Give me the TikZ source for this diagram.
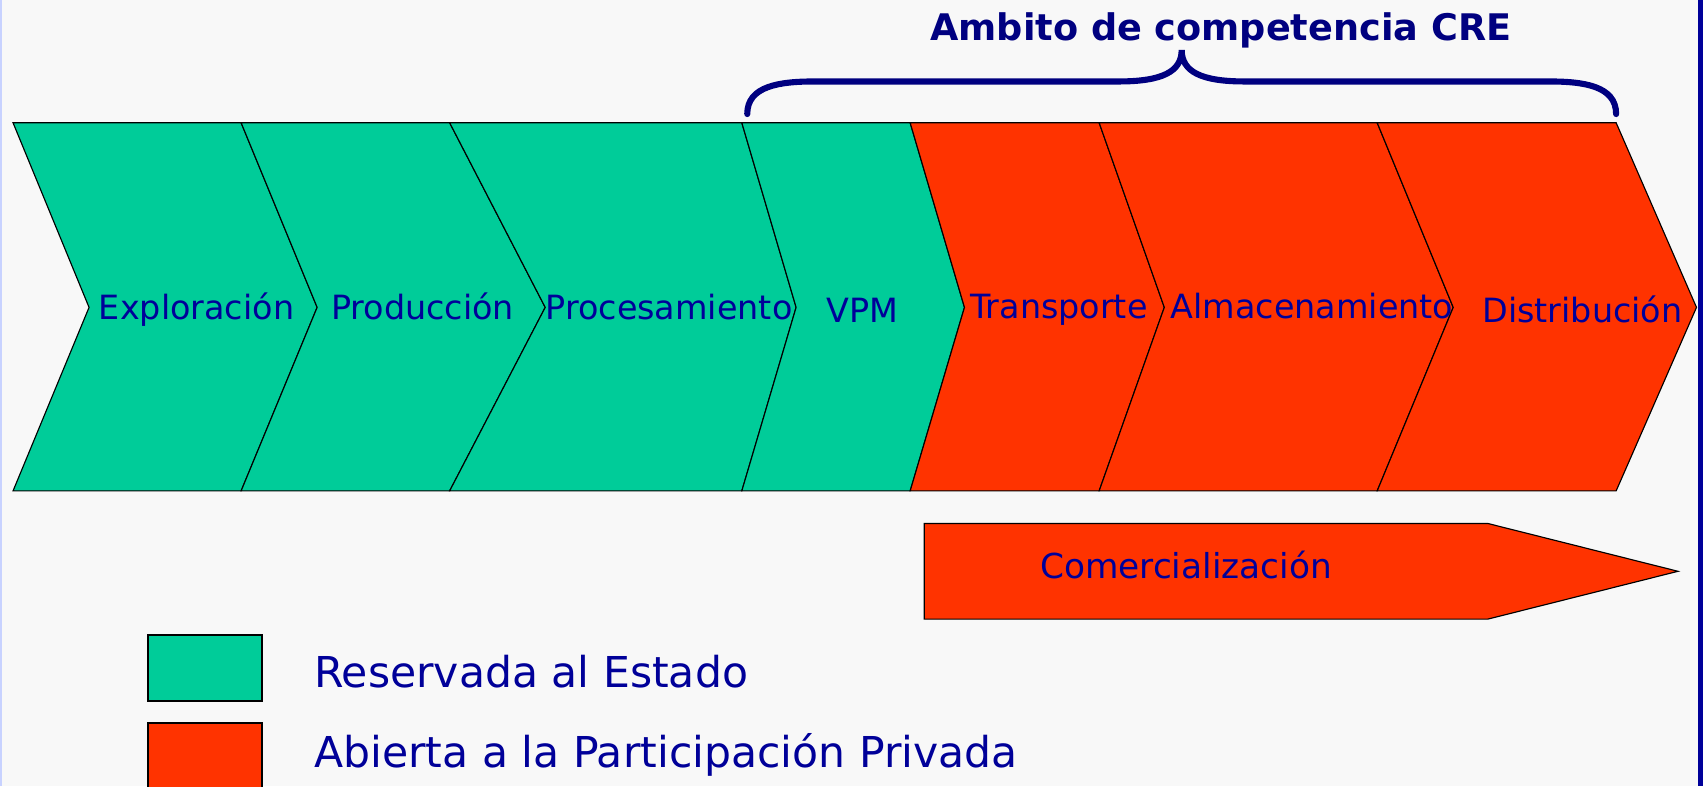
\documentclass[tikz,border=0pt]{standalone}
\usepackage{fontspec}
\setmainfont{DejaVu Sans}
\definecolor{Fondo}{HTML}{F8F8F8}
\definecolor{VerdeEstado}{HTML}{00CC99}
\definecolor{RojoPrivado}{HTML}{FF3300}
\definecolor{TextoAzul}{HTML}{000099}
\definecolor{LlaveAzul}{HTML}{000080}
\definecolor{BordeClaro}{HTML}{C8D2FF}
\colorlet{FilledSurfaceEstado}{VerdeEstado}
\colorlet{FilledSurfacePrivado}{RojoPrivado}
\usetikzlibrary{calc}

\begin{document}
\begin{tikzpicture}[x=0.02cm, y=-0.02cm,
    etapa/.style={draw=black, line width=0.6pt, line join=miter},
    etiqueta/.style={text=TextoAzul, font=\fontsize{17.5}{20}\selectfont, anchor=base, inner sep=0pt},
    leyenda/.style={text=TextoAzul, font=\fontsize{22.3}{26}\selectfont, anchor=base west, inner sep=0pt}]

    \useasboundingbox (0,0) rectangle (1568,724);
    \clip (0,0) rectangle (1568,724);

    % Fondo y bordes
    \fill [Fondo] (0,0) rectangle (1568,724);
    \fill [BordeClaro] (0,0) rectangle (2,724);
    \fill [TextoAzul] (1563,0) rectangle (1568,724);

    % Dibujar etapas reservadas al Estado
    \draw [etapa, fill=FilledSurfaceEstado] (12,113) -- (222,113) -- (292,283) -- (222,452) -- (12,452) -- (82,283) -- cycle;
    \draw [etapa, fill=FilledSurfaceEstado] (222,113) -- (414,113) -- (502,283) -- (414,452) -- (222,452) -- (292,283) -- cycle;
    \draw [etapa, fill=FilledSurfaceEstado] (414,113) -- (683,113) -- (733,283) -- (683,452) -- (414,452) -- (502,283) -- cycle;
    \draw [etapa, fill=FilledSurfaceEstado] (683,113) -- (838,113) -- (888,283) -- (838,452) -- (683,452) -- (733,283) -- cycle;

    % Dibujar etapas abiertas
    \draw [etapa, fill=FilledSurfacePrivado] (838,113) -- (1012,113) -- (1072,283) -- (1012,452) -- (838,452) -- (888,283) -- cycle;
    \draw [etapa, fill=FilledSurfacePrivado] (1012,113) -- (1268,113) -- (1338,283) -- (1268,452) -- (1012,452) -- (1072,283) -- cycle;
    \draw [etapa, fill=FilledSurfacePrivado] (1268,113) -- (1488,113) -- (1562,283) -- (1488,452) -- (1268,452) -- (1338,283) -- cycle;

    \node [etiqueta] (exploracion) at (181,294) {Exploración};
    \node [etiqueta] (produccion) at (389,294) {Producción};
    \node [etiqueta] (procesamiento) at (616,294) {Procesamiento};
    \node [etiqueta] (vpm) at (794,297) {VPM};
    \node [etiqueta] (transporte) at (975,293) {Transporte};
    \node [etiqueta] (almacenamiento) at (1208,293) {Almacenamiento};
    \node [etiqueta] (distribucion) at (1457,297) {Distribución};

    % Dibujar llave del ambito CRE
    \draw [LlaveAzul, line width=3.2pt, line cap=round]
    (688,105) .. controls (688,79) and (718,75) .. (750,75)
    -- (1030,75) .. controls (1070,75) and (1088,66) .. (1088,46)
    .. controls (1088,66) and (1106,75) .. (1146,75)
    -- (1426,75) .. controls (1458,75) and (1488,79) .. (1488,105);
    \node [anchor=base, inner sep=0pt, text=LlaveAzul, font=\bfseries\fontsize{19.2}{22}\selectfont] (ambito) at (1124,37) {Ambito de competencia CRE};

    % Dibujar comercializacion
    \draw [etapa, fill=FilledSurfacePrivado] (851,482) -- (1370,482) -- (1545,526) -- (1370,570) -- (851,570) -- cycle;
    \node [etiqueta, font=\fontsize{18}{21}\selectfont] (comercializacion) at (1092,533) {Comercialización};

    % Leyenda
    \draw [etapa, line width=1pt, fill=FilledSurfaceEstado] (136,585) rectangle (241,645);
    \node [leyenda] (reservada) at (289,633) {Reservada al Estado};
    \draw [etapa, line width=1pt, fill=FilledSurfacePrivado] (136,666) rectangle (241,740);
    \node [leyenda] (abierta) at (289,707) {Abierta a la Participación Privada};

\end{tikzpicture}
\end{document}
